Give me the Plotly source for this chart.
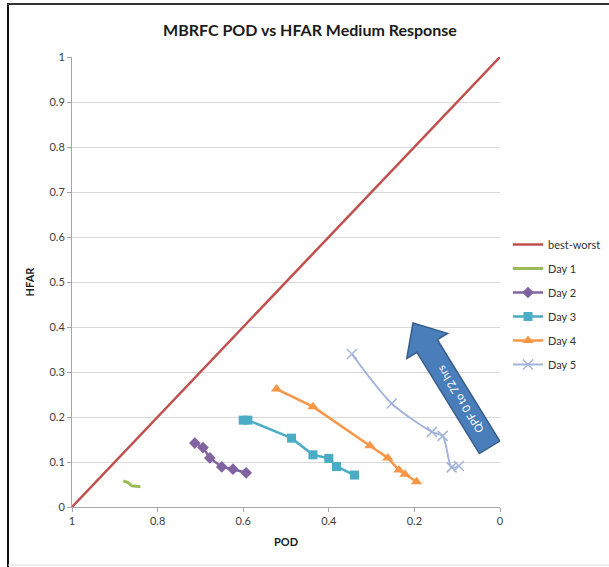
import math
import plotly.graph_objects as go

# ---- data ----
best_worst_pod = [1.0, 0.0]
best_worst_hfar = [0.0, 1.0]

day1_pod = [0.88, 0.87, 0.86, 0.84]
day1_hfar = [0.058, 0.055, 0.047, 0.045]

day2_pod = [0.713, 0.694, 0.678, 0.650, 0.624, 0.593]
day2_hfar = [0.142, 0.132, 0.109, 0.089, 0.084, 0.076]

day3_pod = [0.600, 0.589, 0.487, 0.437, 0.400, 0.382, 0.340]
day3_hfar = [0.193, 0.193, 0.153, 0.116, 0.108, 0.090, 0.071]

day4_pod = [0.522, 0.437, 0.304, 0.262, 0.236, 0.222, 0.195]
day4_hfar = [0.262, 0.223, 0.136, 0.109, 0.082, 0.073, 0.056]

day5_pod = [0.346, 0.253, 0.159, 0.134, 0.113, 0.096]
day5_hfar = [0.340, 0.230, 0.167, 0.158, 0.088, 0.091]

y_ticks = [0, 0.1, 0.2, 0.3, 0.4, 0.5, 0.6, 0.7, 0.8, 0.9, 1]
y_tick_text = ["0", "0.1", "0.2", "0.3", "0.4", "0.5", "0.6", "0.7", "0.8", "0.9", "1"]
x_ticks = [1, 0.8, 0.6, 0.4, 0.2, 0]
x_tick_text = ["1", "0.8", "0.6", "0.4", "0.2", "0"]

FONT = "Lato"
W, H = 609, 567
L, R, T, B = 72, 109, 57, 60

fig = go.Figure()
fig.add_trace(go.Scatter(x=best_worst_pod, y=best_worst_hfar, mode="lines", name="best-worst",
                         line=dict(color="#C0504D", width=2.5), legendgroup="a"))
fig.add_trace(go.Scatter(x=day1_pod, y=day1_hfar, mode="lines", name="Day 1",
                         line=dict(color="#9BBB59", width=3), legendgroup="b"))
fig.add_trace(go.Scatter(x=day2_pod, y=day2_hfar, mode="lines+markers", name="Day 2",
                         line=dict(color="#8064A2", width=2.5),
                         marker=dict(symbol="diamond", size=9, color="#8064A2"), legendgroup="c"))
fig.add_trace(go.Scatter(x=day3_pod, y=day3_hfar, mode="lines+markers", name="Day 3",
                         line=dict(color="#4BACC6", width=2.5),
                         marker=dict(symbol="square", size=9, color="#4BACC6"), legendgroup="d"))
fig.add_trace(go.Scatter(x=day4_pod, y=day4_hfar, mode="lines+markers", name="Day 4",
                         line=dict(color="#F79646", width=2.5),
                         marker=dict(symbol="triangle-up", size=10, color="#F79646"), legendgroup="e"))
fig.add_trace(go.Scatter(x=day5_pod, y=day5_hfar, mode="lines+markers", name="Day 5",
                         line=dict(color="#A5B4DA", width=2, shape="spline", smoothing=0.8),
                         marker=dict(symbol="x-thin-open", size=10, color="#A5B4DA",
                                     line=dict(width=1.5, color="#A5B4DA")), legendgroup="f"))

# ---- decorative block arrow (pixel geometry converted to data space) ----
def px2data(px, py):
    return ((W - R - px) / (W - L - R), (H - B - py) / (H - T - B))

tip = (413.0, 323.0)
ang = math.atan2(125.0, 77.0)
u = (math.cos(ang), math.sin(ang))
p = (u[1], -u[0])
head_len, head_hw, body_hw, total = 27, 24, 12, 146
def pt(a, b):
    return px2data(tip[0] + a * u[0] + b * p[0], tip[1] + a * u[1] + b * p[1])
pts = [pt(0, 0), pt(head_len, head_hw), pt(head_len, body_hw), pt(total, body_hw),
       pt(total, -body_hw), pt(head_len, -body_hw), pt(head_len, -head_hw)]
path = "M " + " L ".join(f"{x:.4f},{y:.4f}" for x, y in pts) + " Z"
fig.add_shape(type="path", path=path, xref="x", yref="y",
              fillcolor="#4A7EBB", line=dict(color="#385D8A", width=1.5), layer="above")
cx, cy = pt(90, 0)
fig.add_annotation(x=cx, y=cy, xref="x", yref="y", text="QPF 0 to 72 hrs", showarrow=False,
                   textangle=-122, font=dict(family=FONT, size=11, color="white"))

# ---- outer frame ----
def pxx(px):
    return (px - L) / (W - L - R)
def pxy(py):
    return (H - B - py) / (H - T - B)
fig.add_shape(type="line", xref="paper", yref="paper", x0=pxx(8), x1=pxx(8), y0=pxy(3), y1=pxy(567),
              line=dict(color="#111111", width=2))
fig.add_shape(type="line", xref="paper", yref="paper", x0=pxx(7), x1=pxx(609), y0=pxy(4), y1=pxy(4),
              line=dict(color="#333333", width=2))
fig.add_shape(type="line", xref="paper", yref="paper", x0=pxx(8), x1=pxx(609), y0=pxy(565), y1=pxy(565),
              line=dict(color="#E0E0E0", width=1))

fig.update_layout(
    width=W, height=H,
    margin=dict(l=L, r=R, t=T, b=B, autoexpand=False),
    paper_bgcolor="white", plot_bgcolor="white",
    title=dict(text="<b>MBRFC POD vs HFAR Medium Response</b>", x=(310) / W, xanchor="center",
               y=1 - 30 / H, yanchor="middle", font=dict(family=FONT, size=16, color="#1a1a1a")),
    showlegend=True,
    legend=dict(x=pxx(508), y=pxy(230), xanchor="left", yanchor="top",
                font=dict(family=FONT, size=11, color="#333333"),
                tracegroupgap=5, traceorder="grouped", itemwidth=30,
                bgcolor="rgba(0,0,0,0)"),
    font=dict(family=FONT),
)
fig.update_xaxes(range=[1, 0], tickvals=x_ticks, ticktext=x_tick_text, showgrid=False,
                 showline=True, linecolor="#A6A6A6", linewidth=1, ticks="outside", ticklen=4,
                 tickcolor="#A6A6A6", tickfont=dict(family=FONT, size=11, color="#404040"),
                 title=dict(text="<b>POD</b>", font=dict(family=FONT, size=11, color="#1a1a1a"), standoff=12),
                 zeroline=False)
fig.update_yaxes(range=[0, 1], tickvals=y_ticks, ticktext=y_tick_text, showgrid=True,
                 gridcolor="#D9D9D9", gridwidth=1,
                 showline=True, linecolor="#A6A6A6", linewidth=1, ticks="outside", ticklen=4,
                 tickcolor="#A6A6A6", tickfont=dict(family=FONT, size=11, color="#404040"),
                 title=dict(text="<b>HFAR</b>", font=dict(family=FONT, size=11, color="#1a1a1a"), standoff=12),
                 zeroline=False)

fig.write_html("out.html")
